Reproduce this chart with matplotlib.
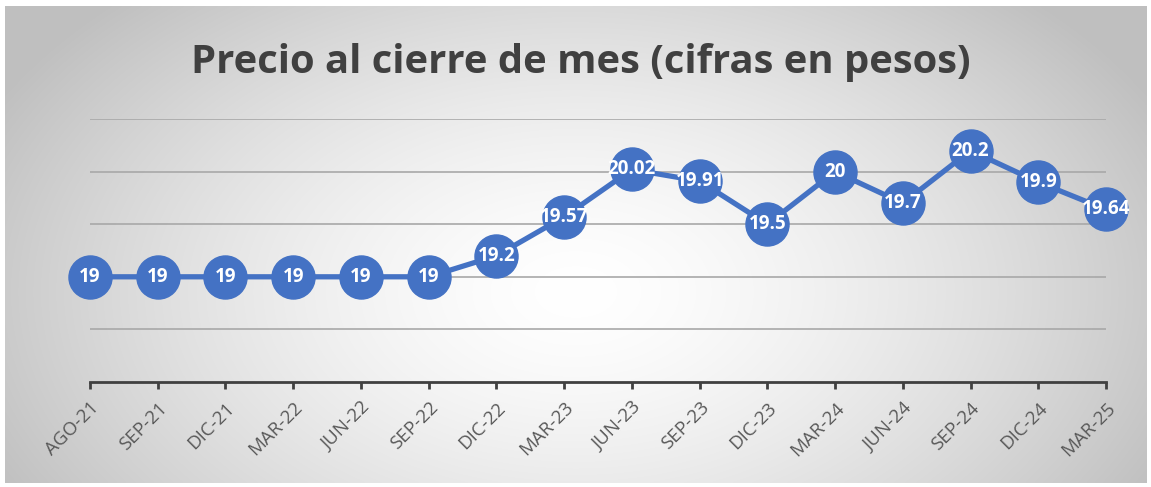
import matplotlib
matplotlib.use('Agg')
import matplotlib.pyplot as plt
import numpy as np

# datos
meses = ['AGO-21', 'SEP-21', 'DIC-21', 'MAR-22', 'JUN-22', 'SEP-22', 'DIC-22', 'MAR-23',
         'JUN-23', 'SEP-23', 'DIC-23', 'MAR-24', 'JUN-24', 'SEP-24', 'DIC-24', 'MAR-25']
precios = [19, 19, 19, 19, 19, 19, 19.2, 19.57, 20.02, 19.91, 19.5, 20, 19.7, 20.2, 19.9, 19.64]
etiquetas = ['19', '19', '19', '19', '19', '19', '19.2', '19.57', '20.02', '19.91',
             '19.5', '20', '19.7', '20.2', '19.9', '19.64']

W, H = 1151, 487
BLUE = '#4472C4'
FONT = ['Open Sans', 'DejaVu Sans']

fig = plt.figure(figsize=(W / 100, H / 100), dpi=100)
fig.patch.set_facecolor('white')

# fondo con degradado radial
bg = fig.add_axes([5 / W, 4 / H, 1142 / W, 477 / H])
yy, xx = np.mgrid[0:1:300j, 0:1:600j]
r = np.sqrt(((xx - 0.5) / 0.5) ** 2 + ((yy - 0.6) / 0.75) ** 2)
r = np.clip(r / 1.15, 0, 1)
shade = 1.0 - 0.25 * r ** 1.5
bg.imshow(np.dstack([shade] * 3), aspect='auto', extent=[0, 1, 0, 1], interpolation='bicubic')
bg.axis('off')

# ejes del gráfico
x0, x1 = 90, 1106
y_top, y_bot = 119, 382
ax = fig.add_axes([x0 / W, 1 - y_bot / H, (x1 - x0) / W, (y_bot - y_top) / H])
ax.patch.set_alpha(0)
x = np.arange(len(meses))
ax.set_xlim(0, len(meses) - 1)
ax.set_ylim(18, 20.5)
ax.set_yticks([18.5, 19, 19.5, 20, 20.5])
ax.grid(axis='y', color='#a8a8a8', linewidth=1.2)
ax.set_axisbelow(True)
ax.tick_params(axis='y', length=0, labelleft=False)
for s in ['top', 'right', 'left']:
    ax.spines[s].set_visible(False)
ax.spines['bottom'].set_color('#404040')
ax.spines['bottom'].set_linewidth(2)

ax.plot(x, precios, color=BLUE, linewidth=3.8, marker='o', markersize=31,
        markerfacecolor=BLUE, markeredgecolor=BLUE, clip_on=False, zorder=3)
for xi, yi, t in zip(x, precios, etiquetas):
    ax.text(xi, yi, t, ha='center', va='center', color='white', fontsize=13.5,
            fontweight='bold', family=FONT, zorder=4)

ax.set_xticks(x)
ax.set_xticklabels(meses, rotation=45, ha='right', va='top', rotation_mode='anchor',
                   color='#595959', fontsize=13.5, family=FONT)
ax.tick_params(axis='x', length=5, width=2, color='#404040', pad=7)

fig.text(581 / W, 1 - 63 / H, 'Precio al cierre de mes (cifras en pesos)', ha='center',
         va='center', fontsize=28.8, fontweight='bold', color='#404040', family=FONT)

fig.savefig('out.png', dpi=100, facecolor='white')
